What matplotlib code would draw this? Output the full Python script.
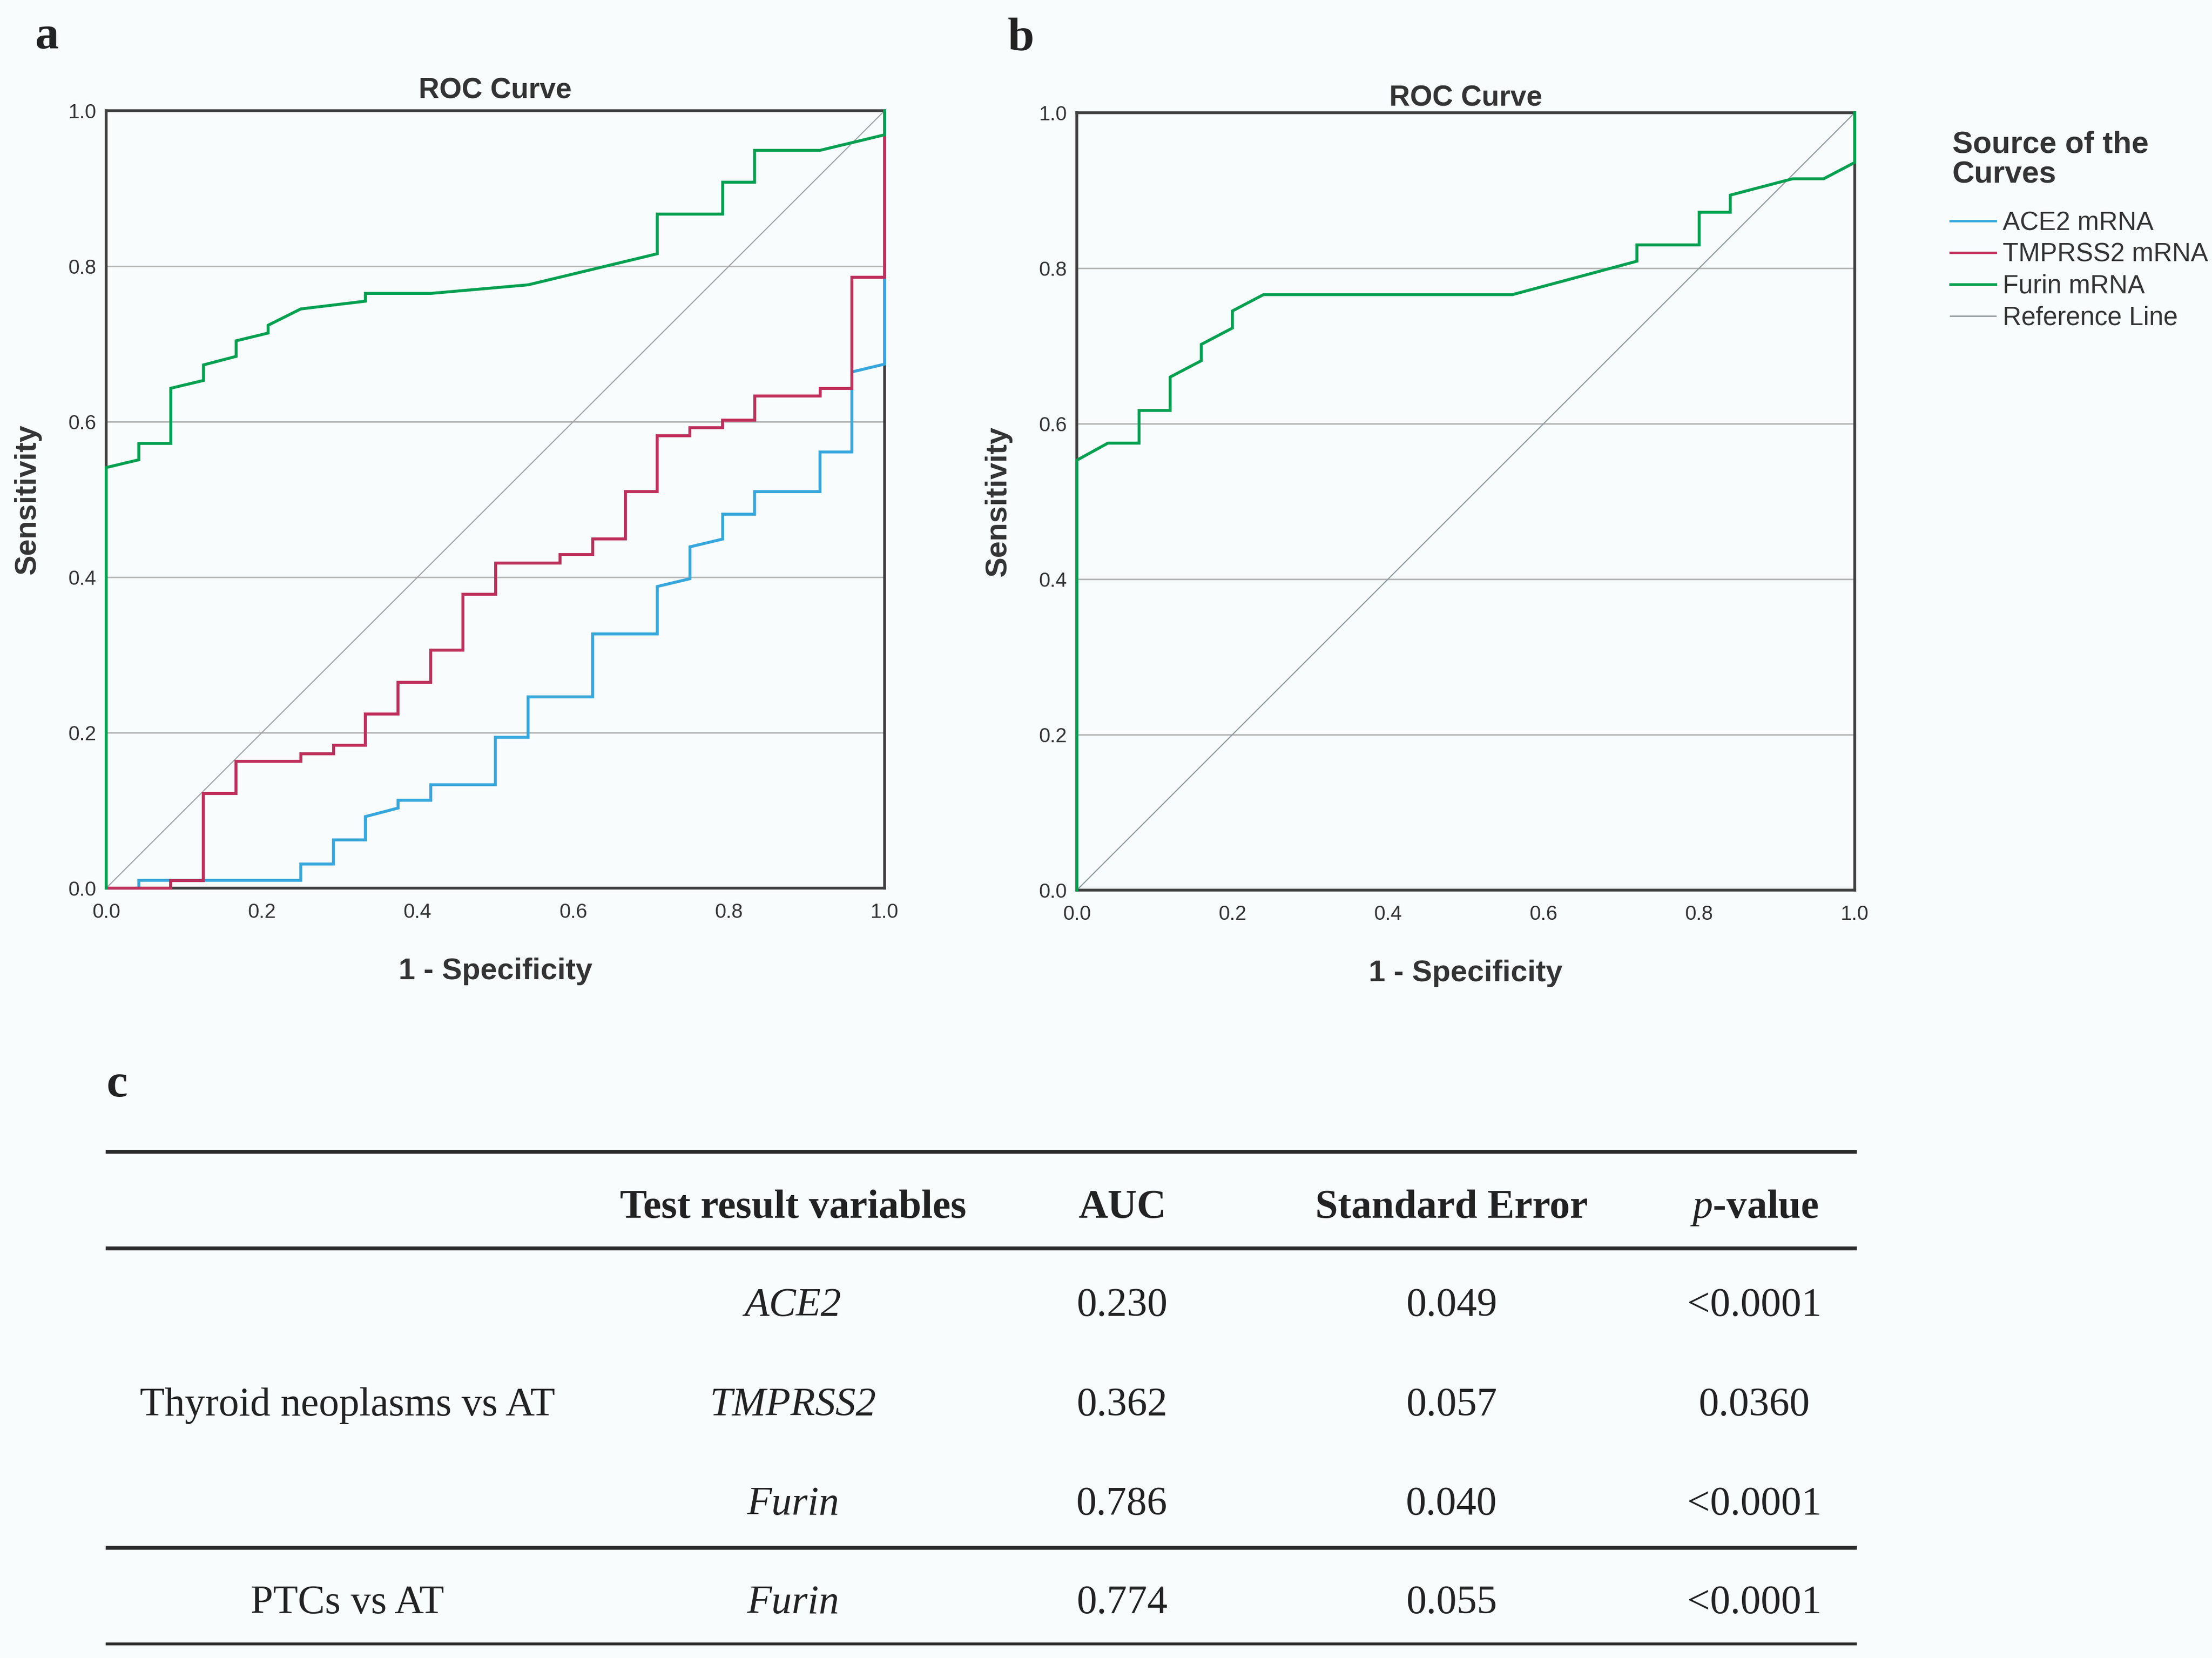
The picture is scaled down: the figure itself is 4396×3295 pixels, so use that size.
import matplotlib
matplotlib.use("Agg")
import matplotlib.pyplot as plt
from matplotlib.lines import Line2D

# ---- data ----
# panel a: thyroid neoplasms vs AT
ace2_fpr = [0, 0.042, 0.042, 0.250, 0.250, 0.292, 0.292, 0.333, 0.333, 0.375, 0.375, 0.417, 0.417,
            0.500, 0.500, 0.542, 0.542, 0.625, 0.625, 0.708, 0.708, 0.750, 0.750, 0.792, 0.792,
            0.833, 0.833, 0.917, 0.917, 0.958, 0.958, 1.0, 1.0]
ace2_tpr = [0, 0, 0.010, 0.010, 0.031, 0.031, 0.062, 0.062, 0.092, 0.103, 0.113, 0.113, 0.133,
            0.133, 0.194, 0.194, 0.246, 0.246, 0.327, 0.327, 0.388, 0.398, 0.439, 0.449, 0.481,
            0.481, 0.510, 0.510, 0.561, 0.561, 0.664, 0.674, 1.0]

tmprss2_fpr = [0, 0.083, 0.083, 0.125, 0.125, 0.167, 0.167, 0.250, 0.250, 0.292, 0.292, 0.333,
               0.333, 0.375, 0.375, 0.417, 0.417, 0.458, 0.458, 0.500, 0.500, 0.583, 0.583, 0.625,
               0.625, 0.667, 0.667, 0.708, 0.708, 0.750, 0.750, 0.792, 0.792, 0.833, 0.833, 0.917,
               0.917, 0.958, 0.958, 1.0, 1.0]
tmprss2_tpr = [0, 0, 0.010, 0.010, 0.122, 0.122, 0.163, 0.163, 0.173, 0.173, 0.184, 0.184,
               0.224, 0.224, 0.265, 0.265, 0.306, 0.306, 0.378, 0.378, 0.418, 0.418, 0.429, 0.429,
               0.449, 0.449, 0.510, 0.510, 0.582, 0.582, 0.592, 0.592, 0.602, 0.602, 0.633, 0.633,
               0.643, 0.643, 0.786, 0.786, 1.0]

furin_a_fpr = [0, 0, 0.042, 0.042, 0.083, 0.083, 0.125, 0.125, 0.167, 0.167, 0.208, 0.208, 0.250,
               0.333, 0.333, 0.417, 0.542, 0.708, 0.708, 0.792, 0.792, 0.833, 0.833, 0.917, 1.0, 1.0]
furin_a_tpr = [0, 0.541, 0.551, 0.572, 0.572, 0.643, 0.653, 0.673, 0.684, 0.704, 0.714, 0.724,
               0.745, 0.755, 0.765, 0.765, 0.776, 0.816, 0.867, 0.867, 0.908, 0.908, 0.949, 0.949,
               0.969, 1.0]

# panel b: PTCs vs AT
furin_b_fpr = [0, 0, 0.04, 0.08, 0.08, 0.12, 0.12, 0.16, 0.16, 0.20, 0.20, 0.24, 0.56, 0.72, 0.72,
               0.80, 0.80, 0.84, 0.84, 0.92, 0.96, 1.0, 1.0]
furin_b_tpr = [0, 0.553, 0.575, 0.575, 0.617, 0.617, 0.660, 0.681, 0.702, 0.723, 0.745, 0.766,
               0.766, 0.809, 0.830, 0.830, 0.872, 0.872, 0.894, 0.915, 0.915, 0.936, 1.0]

legend_title = ["Source of the", "Curves"]
legend_labels = ["ACE2 mRNA", "TMPRSS2 mRNA", "Furin mRNA", "Reference Line"]
ticks = [0.0, 0.2, 0.4, 0.6, 0.8, 1.0]

# table c
col_headers = ["Test result variables", "AUC", "Standard Error", r"$\mathit{p}$-value"]
groups = ["Thyroid neoplasms vs AT", "PTCs vs AT"]
genes = ["ACE2", "TMPRSS2", "Furin", "Furin"]
auc = ["0.230", "0.362", "0.786", "0.774"]
std_err = ["0.049", "0.057", "0.040", "0.055"]
p_values = ["<0.0001", "0.0360", "<0.0001", "<0.0001"]

# ---- styling ----
BG = "#f8fcfd"
C_ACE2 = "#36a7dc"
C_TMP = "#bf2f5b"
C_FUR = "#00a050"
C_REF = "#a0a4a6"
C_GRID = "#b5b5b5"
C_TXT = "#333333"

plt.rcParams["font.family"] = ["Liberation Sans", "DejaVu Sans"]
plt.rcParams["mathtext.fontset"] = "custom"
plt.rcParams["mathtext.it"] = "Liberation Serif:italic"
plt.rcParams["mathtext.rm"] = "Liberation Serif:bold"

W, H = 4396, 3295
fig = plt.figure(figsize=(W / 100, H / 100), dpi=100, facecolor=BG)

# page overlay in pixel coordinates (letters, legend title, table)
page = fig.add_axes([0, 0, 1, 1], zorder=0)
page.set_xlim(0, W)
page.set_ylim(H, 0)
page.axis("off")


def roc_axes(rect, curves, ref_color, title_pad):
    ax = fig.add_axes(rect, zorder=2)
    ax.set_facecolor(BG)
    ax.set_xlim(0, 1)
    ax.set_ylim(0, 1)
    for y in ticks[1:-1]:
        ax.axhline(y, color=C_GRID, lw=2.2, zorder=1)
    ax.plot([0, 1], [0, 1], color=ref_color, lw=1.6, zorder=2)
    for fpr, tpr, col in curves:
        ax.plot(fpr, tpr, color=col, lw=4.2, zorder=3, clip_on=False,
                solid_joinstyle="miter")
    for s in ax.spines.values():
        s.set_color("#3f3f3f")
        s.set_linewidth(4.0)
    ax.set_xticks(ticks)
    ax.set_yticks(ticks)
    ax.set_xticklabels([f"{t:.1f}" for t in ticks])
    ax.set_yticklabels([f"{t:.1f}" for t in ticks])
    ax.tick_params(length=0, labelsize=29, colors=C_TXT)
    ax.tick_params(axis="y", pad=14)
    ax.tick_params(axis="x", pad=21)
    ax.set_title("ROC Curve", fontsize=41, fontweight="bold", color=C_TXT, pad=title_pad)
    ax.set_xlabel("1 - Specificity", fontsize=43, fontweight="bold", color=C_TXT, va="baseline")
    ax.xaxis.set_label_coords(0.5, -0.117)
    ax.set_ylabel("Sensitivity", fontsize=43, fontweight="bold", color=C_TXT, va="baseline")
    ax.yaxis.set_label_coords(-0.091, 0.5)
    return ax


ax_a = roc_axes([211 / W, 1 - 1765 / H, 1547 / W, 1545 / H],
                [(ace2_fpr, ace2_tpr, C_ACE2),
                 (tmprss2_fpr, tmprss2_tpr, C_TMP),
                 (furin_a_fpr, furin_a_tpr, C_FUR)], C_REF, 18)
ax_b = roc_axes([2140 / W, 1 - 1769 / H, 1546 / W, 1545 / H],
                [(furin_b_fpr, furin_b_tpr, C_FUR)], "#8e999d", 10)

# legend (title drawn as plain text, entries as a frameless legend)
for line, yb in zip(legend_title, [303, 364]):
    page.text(3880, yb, line, fontsize=44, fontweight="bold", color=C_TXT,
              va="baseline", ha="left")

handles = [Line2D([], [], color=c, lw=w) for c, w in
           [(C_ACE2, 3.3), (C_TMP, 3.3), (C_FUR, 3.8), ("#9aa3a6", 2.2)]]
leg = fig.legend(handles, legend_labels, loc="upper left",
                 bbox_to_anchor=(3876 / W, 1 - 419 / H),
                 frameon=False, fontsize=37,
                 handlelength=1.75, handletextpad=0.28, labelspacing=0.27,
                 borderpad=0, borderaxespad=0)
for t in leg.get_texts():
    t.set_color(C_TXT)

# panel letters
serif = ["Liberation Serif", "DejaVu Serif"]
for letter, x, y in [("a", 70, 96), ("b", 2003, 99), ("c", 212, 2179)]:
    page.text(x, y, letter, fontsize=68, fontweight="bold", family=serif,
              color="#222222", va="baseline", ha="left")

# ---- table c ----
x_left, x_right = 210, 3690
col_x = [690, 1576, 2230, 2885, 3487]
page.hlines([2289, 2481, 3076], x_left, x_right, color="#2b2b2b", lw=5.5)
page.hlines([3267], x_left, x_right, color="#2b2b2b", lw=4)

tkw = dict(fontsize=58, family=serif, color="#222222", va="baseline", ha="center")
for x, h in zip(col_x[1:], col_headers):
    page.text(x, 2420, h, fontweight="bold", **tkw)

row_y = [2615, 2813, 3010, 3206]
page.text(col_x[0], row_y[1], groups[0], **tkw)
page.text(col_x[0], row_y[3], groups[1], **tkw)
for i, y in enumerate(row_y):
    page.text(col_x[1], y, genes[i], fontstyle="italic", **tkw)
    page.text(col_x[2], y, auc[i], **tkw)
    page.text(col_x[3], y, std_err[i], **tkw)
    page.text(col_x[4], y, p_values[i], **tkw)

fig.savefig("out.png", dpi=100, facecolor=BG)
